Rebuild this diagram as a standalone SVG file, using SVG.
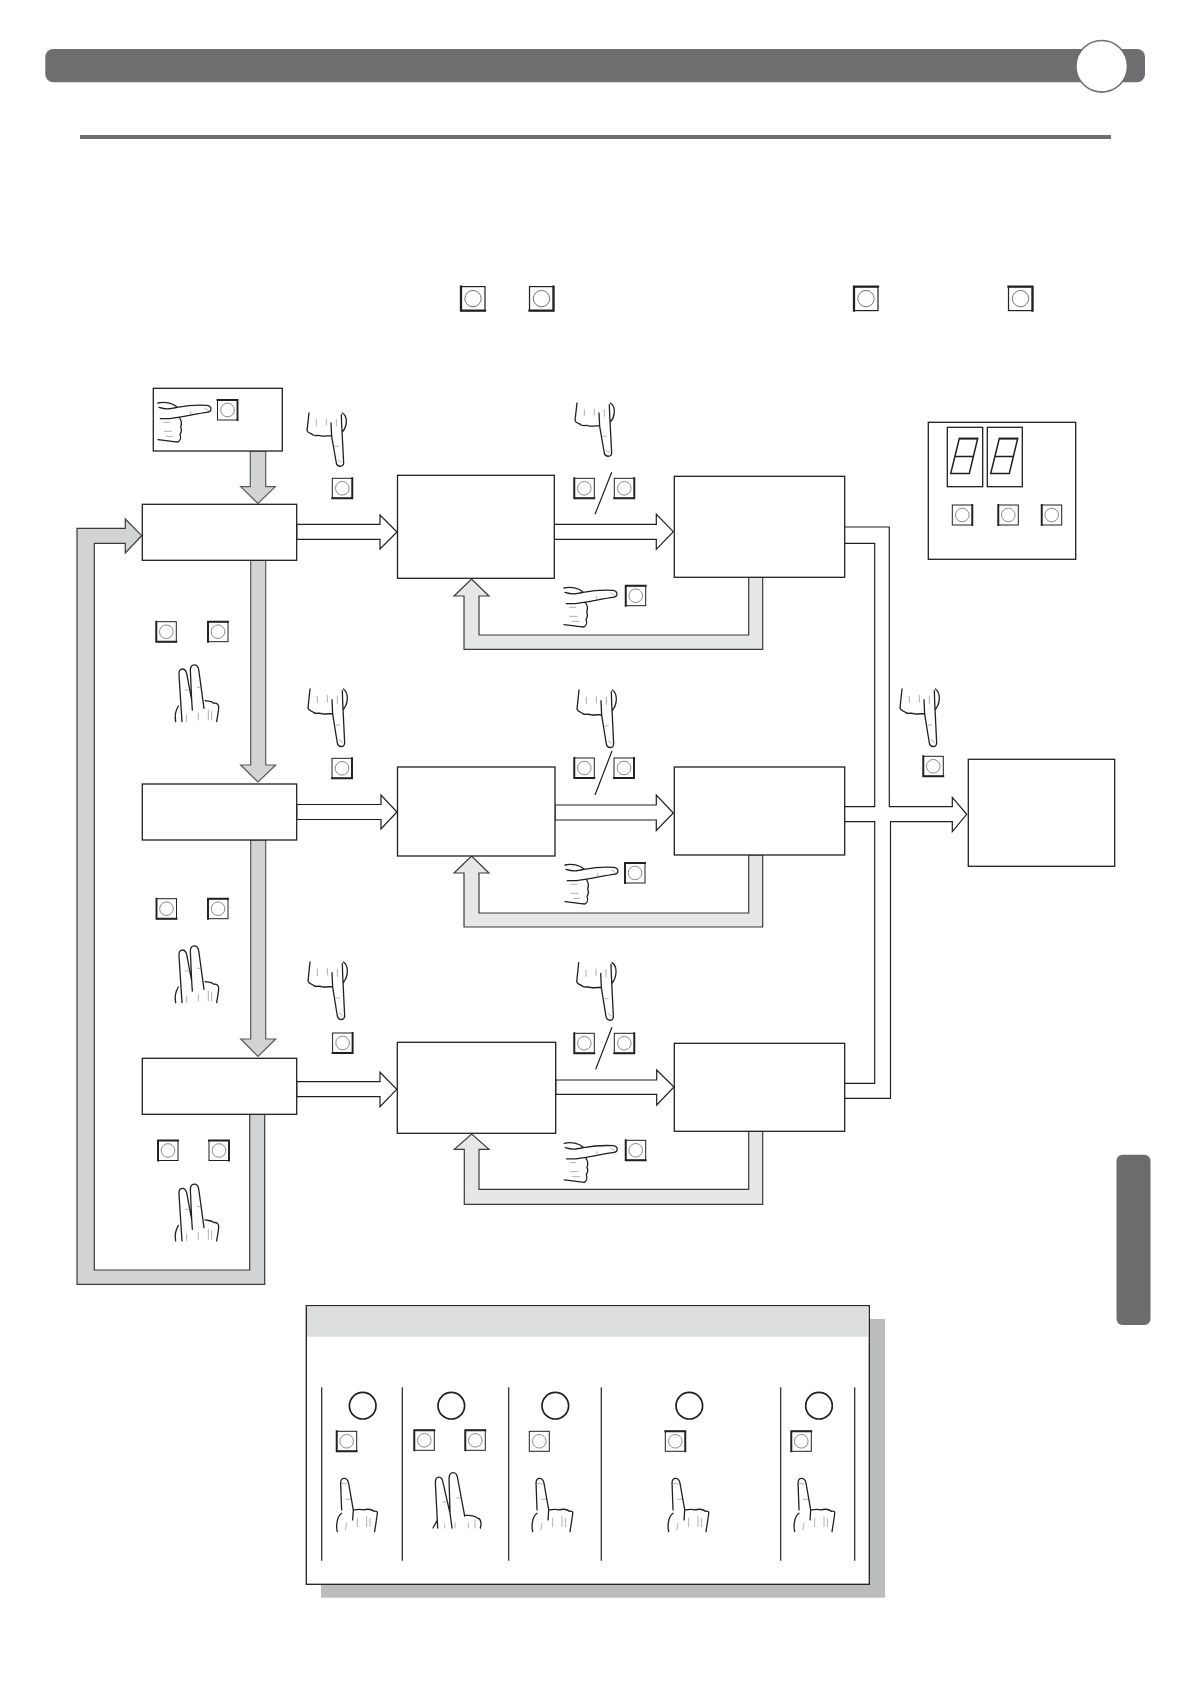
<svg xmlns="http://www.w3.org/2000/svg" xmlns:xlink="http://www.w3.org/1999/xlink" width="1190" height="1684" viewBox="0 0 1190 1684">
<style>
.n{fill:#fff;stroke:#231f20;stroke-width:1.3}
.w{fill:#fff;stroke:#231f20;stroke-width:1.2;stroke-linejoin:miter}
.g{fill:#d1d3d4;stroke:#58595b;stroke-width:1.2}
.gd{fill:#d1d3d4;stroke:#3a3a3c;stroke-width:1.2}
.lg{fill:#e6e7e8;stroke:#3a3a3c;stroke-width:1.2}
.l{fill:none;stroke:#231f20;stroke-width:1.2}
.h{fill:none;stroke:#231f20;stroke-width:3.9;stroke-linecap:round;stroke-linejoin:round}
.t{fill:none;stroke:#6d6e71;stroke-width:1.6;stroke-linecap:round}
.o{fill:none;stroke:#231f20;stroke-width:1.5}
.bc{fill:#fff;stroke:#6d6e71;stroke-width:.8}
.bb{fill:#fff;stroke:#231f20;stroke-width:1}
.th{fill:none;stroke:#231f20;stroke-width:1.9;stroke-linecap:square}
</style>
<defs>
<g id="b"><rect class="bb" x="-10" y="-10" width="20" height="20"/><circle class="bc" cx="0" cy="0" r="6.8"/></g>
<g id="bTR"><use href="#b"/><path class="th" d="M-10 -10H10V10"/></g>
<g id="bBR"><use href="#b"/><path class="th" d="M10 -10V10H-10"/></g>
<g id="bBL"><use href="#b"/><path class="th" d="M-10 -10V10H10"/></g>
<g id="bTL"><use href="#b"/><path class="th" d="M-10 10V-10H10"/></g>
<g id="bL"><use href="#b"/><path class="th" d="M-10 -10V10"/></g>
<g id="bR"><use href="#b"/><path class="th" d="M10 -10V10"/></g>
<g id="hrp">
<path class="h" d="M265 100C285 95 310 100 322 112M268 113C290 120 300 118 322 113C350 108 390 106 410 107C428 108 428 126 412 128C385 131 350 140 300 147M272 147H300M330 145C337 155 336 165 333 172C337 180 335 188 331 194C335 205 331 214 325 217C305 215 285 212 265 210"/>
<path class="t" d="M282 158H300M283 185H305M290 200H310M362 125L364 132M405 115L415 122"/>
</g>
<g id="hr" transform="scale(.3333) translate(-265,-97)"><use href="#hrp"/></g>
<g id="hdp">
<path class="h" d="M718 130L712 183C715 192 725 190 730 196C740 200 745 195 755 199C765 201 775 198 785 198M784 160L786 200L800 280C803 293 821 293 822 280L816 165L815 135M818 130C835 140 833 170 818 187"/>
<path class="t" d="M740 150V168M770 148V166M796 230H806M806 272L816 278M800 150V170"/>
</g>
<g id="hd" transform="scale(.3333) translate(-712,-130)"><use href="#hdp"/></g>
<g id="hdt" transform="scale(.3333,.36) translate(-712,-130)"><use href="#hdp"/></g>
<g id="h2" transform="scale(.3333) translate(-105,-165)">
<path class="h" d="M126 335L117 195C115 172 135 172 140 190L155 270L157 300M155 270L151 180C152 160 172 160 176 178L192 295M115 288C105 305 105 325 107 335M195 272C205 275 215 272 222 280C230 278 236 284 236 290C236 305 232 320 230 335"/>
<path class="t" d="M140 315V335M175 310V330M205 300V330M215 305V330M136 240H152M172 232H186"/>
</g>
<g id="h2b" transform="scale(.3333) translate(-398,-518)">
<path class="h" d="M413 684L406 548C406 526 426 526 429 548L450 640L456 684M450 640L447 536C448 512 470 512 473 536L494 648M412 660L399 684M495 645C510 645 525 648 532 654C542 654 545 668 541 684"/>
<path class="t" d="M428 606H443M470 594H486M465 668V684M505 670V684M525 660V684M434 672V684"/>
</g>
<g id="h1" transform="scale(.3333) translate(-109,-535)">
<path class="h" d="M125 630L122 550C122 530 142 530 146 550L160 630L158 660M125 640C110 650 108 680 112 695M160 630C172 628 180 626 192 630C205 625 218 630 222 634C230 632 233 636 232 640C230 660 226 680 224 695"/>
<path class="t" d="M140 670L136 690M172 655V680M200 650V680M210 655V680M138 598H152M125 550L140 552"/>
</g>
</defs>
<rect width="1190" height="1684" fill="#fff"/>

<g id="header">
<rect x="45.3" y="49" width="1099.7" height="33.3" rx="8" fill="#6d6e70"/>
<circle cx="1101.7" cy="66.3" r="25.8" fill="#fff" stroke="#6d6e70" stroke-width="1.6"/>
<rect x="80" y="135" width="1031" height="4" fill="#6d6e70"/>
<rect x="1116.5" y="1154.7" width="34" height="170.3" rx="6" fill="#6b6d6d"/>
</g>

<g id="intro-buttons">
<use href="#bBL" transform="translate(473 298.6) scale(1.2)"/><use href="#bBR" transform="translate(541.5 298.6) scale(1.2)"/><use href="#bTL" transform="translate(866 298.6) scale(1.2)"/><use href="#bTR" transform="translate(1020.5 298.6) scale(1.2)"/>
</g>

<g id="connectors">
<polygon class="g" points="250.3,451 265.7,451 265.7,486.7 275.3,486.7 258,503.5 240.7,486.7 250.3,486.7"/>
<polygon class="g" points="250.7,560.5 265.7,560.5 265.7,765 275.7,765 258,782 240.7,765 250.7,765"/>
<polygon class="g" points="250.7,840 265.7,840 265.7,1039 275.7,1039 258,1056.5 240.7,1039 250.7,1039"/>
<polygon class="gd" points="249.7,1114 249.7,1270 94.3,1270 94.3,543.3 125.3,543.3 125.3,553 141.7,535.7 125.3,519 125.3,528.3 77,528.3 77,1284.3 264.7,1284.3 264.7,1114"/>

<polygon class="w" points="296.7,524.3 380,524.3 380,515 397,532 380,549 380,539.3 296.7,539.3"/>
<polygon class="w" points="296.7,804.5 381,804.5 381,795 397,812 381,829 381,819.5 296.7,819.5"/>
<polygon class="w" points="296.7,1081.7 380,1081.7 380,1072.3 396.7,1089.3 380,1106.7 380,1096.7 296.7,1096.7"/>
<polygon class="w" points="554.3,524.3 656.3,524.3 656.3,514.3 673.3,531.7 656.3,549.3 656.3,539.3 554.3,539.3"/>
<polygon class="w" points="555,805 656.3,805 656.3,795 673.3,813 656.3,830.5 656.3,820 555,820"/>
<polygon class="w" points="555.7,1080 656.7,1080 656.7,1070 674,1087 656.7,1105 656.7,1094.3 555.7,1094.3"/>

<polygon class="lg" points="748.7,577 748.7,635 479,635 479,596 489,596 471.5,579 454,596 464,596 464,649.3 762.7,649.3 762.7,577"/>
<polygon class="lg" points="748.7,855 748.7,913 479,913 479,873 489,873 471.5,856 454,873 464,873 464,927 762.7,927 762.7,855"/>
<polygon class="lg" points="748.7,1131.3 748.7,1189.3 479,1189.3 479,1149.3 489,1149.3 471.7,1134 454.3,1149.3 464.3,1149.3 464.3,1204.3 762.7,1204.3 762.7,1131.3"/>

<path class="l" d="M844.7 527H889.3V806.7H952.3V797.3L966.7 814.3L952.3 831.7V821.7H890.5V1098.3H844.7"/>
<path class="l" d="M844.7 543.3H874.7V806.7H844.7M844.7 821.7H874.7V1083.3H844.7"/>
<path class="l" d="M611.7 472.3L595 514.3M612 751L595 795M612 1027.3L595.7 1069.3"/>
</g>

<g id="node-start"><rect class="n" x="153.3" y="388.3" width="129" height="62.7"/><use href="#hr" x="158" y="402"/><use href="#bTR" x="227.5" y="410"/></g>
<g id="node-a1"><rect class="n" x="142.3" y="504.3" width="154.4" height="56"/></g>
<g id="node-a2"><rect class="n" x="142.3" y="784" width="154.4" height="56"/></g>
<g id="node-a3"><rect class="n" x="142.3" y="1058.3" width="154.4" height="56"/></g>
<g id="node-b1"><rect class="n" x="397.5" y="475.3" width="156.8" height="103"/></g>
<g id="node-b2"><rect class="n" x="397.5" y="767" width="157.5" height="89"/></g>
<g id="node-b3"><rect class="n" x="397.3" y="1042.3" width="158.4" height="91"/></g>
<g id="node-c1"><rect class="n" x="674.3" y="476.3" width="170.4" height="101"/></g>
<g id="node-c2"><rect class="n" x="674.3" y="767" width="170.4" height="88"/></g>
<g id="node-c3"><rect class="n" x="674.3" y="1043.3" width="170.4" height="88"/></g>
<g id="node-end"><rect class="n" x="968.3" y="759.3" width="146.4" height="107"/></g>

<g id="panel">
<rect class="n" x="928.3" y="422.3" width="147.4" height="137"/>
<rect class="n" x="947.3" y="427.3" width="35.4" height="59.4"/>
<rect class="n" x="987.3" y="427.3" width="35" height="59.4"/>
<path class="o" d="M959.3 438.5H977.7L969.3 473.5H950.7ZM955 456.5H973.3M999.3 438.5H1017.7L1009.3 473.5H990.7ZM995 456.5H1013.3"/>
<path class="th" d="M960 438.6H977M1000 438.6H1017" stroke-width="1.8"/>
<use href="#bR" x="962.3" y="515"/><use href="#bL" x="1008.3" y="515"/><use href="#bL" x="1051.7" y="515"/>
</g>

<g id="hands">
<use href="#hd" x="307" y="413"/><use href="#hd" x="575" y="403"/>
<use href="#hdt" x="308" y="689"/><use href="#hdt" x="577" y="690"/>
<use href="#hdt" x="308" y="962"/><use href="#hdt" x="576.7" y="962.7"/>
<use href="#hdt" x="900" y="689"/>
<use href="#hr" x="564" y="587"/><use href="#hr" x="565" y="864"/><use href="#hr" x="564.3" y="1142.3"/>
<use href="#h2" x="175" y="665"/><use href="#h2" x="175" y="946"/><use href="#h2" x="175" y="1184.3"/>
</g>

<g id="buttons">
<use href="#bBR" x="342.3" y="488.3"/><use href="#bBL" x="584.3" y="488.3"/><use href="#bBR" x="624.3" y="488.3"/><use href="#bTL" x="635.7" y="595.7"/>
<use href="#bBL" x="166.3" y="631.7"/><use href="#bTL" x="218" y="631.7"/>
<use href="#bBR" x="342" y="768.3"/><use href="#bBL" x="584.3" y="768"/><use href="#bBR" x="624" y="768"/><use href="#bTL" x="635" y="873"/>
<use href="#bBL" x="166.5" y="908.7"/><use href="#bTL" x="218" y="908.7"/>
<use href="#bBR" x="342.6" y="1043"/><use href="#bBL" x="584.3" y="1043.3"/><use href="#bBR" x="624.3" y="1043.3"/><use href="#bBL" x="635.7" y="1150.3"/>
<use href="#bTL" x="168" y="1150.5"/><use href="#bTR" x="219" y="1150.5"/>
<use href="#bBL" x="933.3" y="766.3"/>
</g>

<g id="legend">
<rect x="321" y="1319" width="564" height="278.7" fill="#bbbdbd"/>
<rect class="n" x="306.3" y="1305.7" width="563" height="278.6"/>
<rect x="307" y="1306.4" width="560.7" height="30.3" fill="#dcdedd"/>
<path class="l" d="M321.7 1387.3V1560.7M402.3 1387.3V1560.7M508.7 1387.3V1560.7M601.3 1387.3V1560.7M780.7 1387.3V1560.7M854.7 1387.3V1560.7"/>
<g fill="#fff" stroke="#231f20" stroke-width="1.7"><circle cx="362.7" cy="1405.7" r="13.3"/><circle cx="451.3" cy="1405.7" r="13.3"/><circle cx="555.3" cy="1405.7" r="13.3"/><circle cx="689.3" cy="1405.7" r="13.3"/><circle cx="819" cy="1405.7" r="13.3"/></g>
<use href="#bBL" x="346.7" y="1441.3"/><use href="#bTL" x="424.3" y="1440.3"/><use href="#bTL" x="475.3" y="1440.3"/><use href="#b" x="539.3" y="1441.3"/><use href="#bTR" x="675.3" y="1441.3"/><use href="#bTL" x="801.3" y="1441.3"/>
<use href="#h1" x="336.3" y="1478.3"/><use href="#h2b" x="432.7" y="1472.7"/><use href="#h1" x="531.7" y="1478.3"/><use href="#h1" x="667.7" y="1478.3"/><use href="#h1" x="793.7" y="1478.3"/>
</g>
</svg>
